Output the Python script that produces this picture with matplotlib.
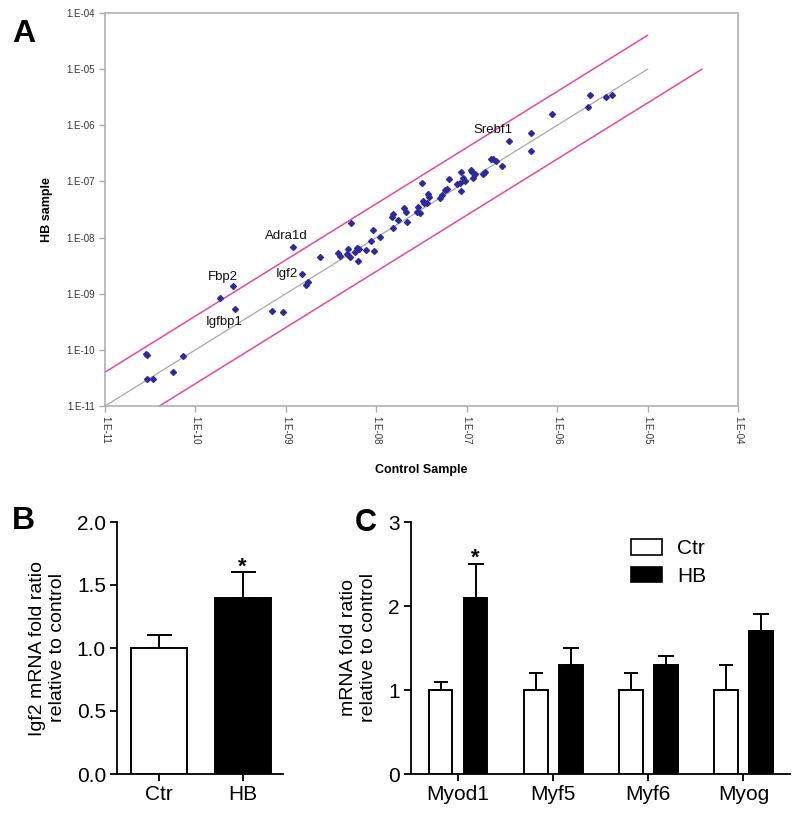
import matplotlib
matplotlib.use("Agg")
import matplotlib.pyplot as plt
from matplotlib.ticker import FixedLocator, FuncFormatter, NullLocator
from matplotlib.patches import Patch
import numpy as np

plt.rcParams['font.family'] = ['Liberation Sans', 'DejaVu Sans']

# ---------------- Panel A data ----------------
control_vals = [2.85e-11, 2.9e-11, 7.35e-11, 5.69e-11, 2.89e-11, 3.42e-11,
                1.87e-10, 2.62e-10, 2.76e-10, 6.97e-10, 9.38e-10,
                1.50e-9, 1.67e-9, 1.77e-9, 1.21e-9, 2.39e-9, 3.80e-9, 3.97e-9,
                4.71e-9, 4.90e-9, 5.12e-9, 5.82e-9, 6.07e-9, 6.44e-9, 6.32e-9,
                7.69e-9, 9.45e-9, 5.21e-9, 9.27e-9, 8.67e-9, 1.10e-8, 1.52e-8,
                1.48e-8, 1.54e-8, 1.75e-8, 2.02e-8, 2.13e-8, 2.17e-8, 2.80e-8,
                2.87e-8, 3.04e-8, 3.31e-8, 3.40e-8, 3.60e-8, 3.76e-8, 3.85e-8,
                3.18e-8, 5.07e-8, 5.28e-8, 5.75e-8, 6.01e-8, 7.74e-8, 8.43e-8,
                8.65e-8, 9.57e-8, 6.37e-8, 8.57e-8, 9.17e-8, 1.11e-7, 1.15e-7,
                1.18e-7, 1.24e-7, 1.52e-7, 1.59e-7, 1.86e-7, 1.94e-7, 2.11e-7,
                2.44e-7, 2.94e-7, 5.11e-7, 5.11e-7, 8.71e-7, 2.31e-6, 2.21e-6,
                3.44e-6, 4.01e-6]
hb_vals = [8.6e-11, 8.1e-11, 7.8e-11, 4.08e-11, 2.99e-11, 2.99e-11,
           8.4e-10, 1.37e-9, 5.27e-10, 4.92e-10, 4.67e-10,
           2.22e-9, 1.43e-9, 1.60e-9, 6.89e-9, 4.56e-9, 5.25e-9, 4.75e-9,
           5.03e-9, 6.18e-9, 4.56e-9, 5.61e-9, 6.44e-9, 6.18e-9, 3.83e-9,
           6.01e-9, 5.77e-9, 1.84e-8, 1.36e-8, 8.79e-9, 1.04e-8, 1.50e-8,
           2.36e-8, 2.60e-8, 2.06e-8, 3.40e-8, 2.89e-8, 1.92e-8, 2.82e-8,
           3.46e-8, 2.77e-8, 4.49e-8, 4.08e-8, 4.18e-8, 5.90e-8, 5.35e-8,
           9.27e-8, 5.01e-8, 5.73e-8, 7.05e-8, 7.48e-8, 9.0e-8, 9.27e-8,
           6.76e-8, 1.02e-7, 1.12e-7, 1.49e-7, 1.14e-7, 1.60e-7, 1.46e-7,
           1.15e-7, 1.36e-7, 1.36e-7, 1.49e-7, 2.54e-7, 2.48e-7, 2.31e-7,
           1.91e-7, 5.25e-7, 7.2e-7, 3.44e-7, 1.57e-6, 3.42e-6, 2.10e-6,
           3.16e-6, 3.42e-6]

label_genes = ['Srebf1', 'Adra1d', 'Fbp2', 'Igf2', 'Igfbp1']
label_ctrl = [2.94e-7, 1.21e-9, 2.62e-10, 1.50e-9, 2.76e-10]
label_hb = [5.25e-7, 6.89e-9, 1.37e-9, 2.22e-9, 5.27e-10]
label_offsets = [(-16, 11), (-7, 11), (-10, 9), (-15, 0), (-11, -13)]

ref_x = [1e-11, 1e-5]
fold = 4.0
a_ticks = [1e-11, 1e-10, 1e-9, 1e-8, 1e-7, 1e-6, 1e-5, 1e-4]

# ---------------- Panel B data ----------------
b_groups = ['Ctr', 'HB']
b_means = [1.0, 1.4]
b_errs = [0.1, 0.2]
b_colors = ['white', 'black']

# ---------------- Panel C data ----------------
c_genes = ['Myod1', 'Myf5', 'Myf6', 'Myog']
c_ctr = [1.0, 1.0, 1.0, 1.0]
c_ctr_err = [0.1, 0.2, 0.2, 0.3]
c_hb = [2.1, 1.3, 1.3, 1.7]
c_hb_err = [0.4, 0.2, 0.1, 0.2]

W, H = 800, 816
fig = plt.figure(figsize=(W / 100, H / 100), dpi=100)

def rect(l, t, r, b):
    return [l / W, 1 - b / H, (r - l) / W, (b - t) / H]

# ================= Panel A =================
axA = fig.add_axes(rect(105, 13, 738, 406))
axA.set_xscale('log')
axA.set_yscale('log')
axA.set_xlim(1e-11, 1e-4)
axA.set_ylim(1e-11, 1e-4)
gray = '#b0b0b0'
for s in axA.spines.values():
    s.set_color(gray)
    s.set_linewidth(1.2)
rx = np.array(ref_x)
axA.plot(rx, rx, color='#a8a8a8', lw=0.9, zorder=1)
axA.plot(rx, rx * fold, color='#e8479e', lw=1.1, zorder=1, clip_on=False)
axA.plot(rx * fold, rx, color='#e8479e', lw=1.1, zorder=1, clip_on=False)
axA.plot(control_vals, hb_vals, linestyle='none', marker='D', markersize=3.0,
         color='#2e2a9c', zorder=3)
for g, cx, hy, off in zip(label_genes, label_ctrl, label_hb, label_offsets):
    axA.annotate(g, xy=(cx, hy), xytext=off, textcoords='offset pixels',
                 ha='center', va='center', fontsize=9.5, color='#111111')
fmt = FuncFormatter(lambda v, p: '1.E-%02d' % round(-np.log10(v)))
for axis in (axA.xaxis, axA.yaxis):
    axis.set_major_locator(FixedLocator(a_ticks))
    axis.set_minor_locator(NullLocator())
    axis.set_major_formatter(fmt)
axA.tick_params(axis='both', which='major', length=4, width=1, color=gray,
                labelsize=7, labelcolor='#333333', direction='out', pad=3)
for lab in axA.get_xticklabels():
    lab.set_rotation(270)
axA.set_xlabel('Control Sample', fontsize=9, fontweight='bold', labelpad=14)
axA.set_ylabel('HB sample', fontsize=9, fontweight='bold', labelpad=10)
fig.text(12 / W, 1 - 34 / H, 'A', fontsize=23, fontweight='bold', va='center', ha='left')

# ================= Panel B =================
axB = fig.add_axes(rect(117, 522, 283, 774))
xb = np.arange(len(b_groups))
axB.bar(xb, b_means, width=0.667, color=b_colors, edgecolor='black', linewidth=1.4, zorder=2)
axB.errorbar(xb, b_means, yerr=[[0] * len(b_errs), b_errs], fmt='none', ecolor='black',
             elinewidth=1.4, capsize=9, capthick=1.4, zorder=1)
axB.text(xb[1], b_means[1] + b_errs[1], '*', ha='center', va='baseline', fontsize=16,
         fontweight='bold')
axB.set_xlim(-0.5, 1.48)
axB.set_ylim(0, 2.0)
axB.set_yticks([0.0, 0.5, 1.0, 1.5, 2.0])
axB.yaxis.set_major_formatter(FuncFormatter(lambda v, p: '%.1f' % v))
axB.set_xticks(xb)
axB.set_xticklabels(b_groups)
for s in ['top', 'right']:
    axB.spines[s].set_visible(False)
for s in ['left', 'bottom']:
    axB.spines[s].set_linewidth(1.3)
axB.tick_params(axis='both', length=5, width=1.3, labelsize=15, pad=3)
axB.set_ylabel('Igf2 mRNA fold ratio\nrelative to control', fontsize=14, labelpad=8)
fig.text(12 / W, 1 - 521 / H, 'B', fontsize=23, fontweight='bold', va='center', ha='left')

# ================= Panel C =================
axC = fig.add_axes(rect(411, 522, 790, 774))
xc = np.arange(len(c_genes))
off = 0.184
bw = 0.25
axC.bar(xc - off, c_ctr, width=bw, color='white', edgecolor='black', linewidth=1.4,
        zorder=2, label='Ctr')
axC.bar(xc + off, c_hb, width=bw, color='black', edgecolor='black', linewidth=1.4,
        zorder=2, label='HB')
axC.errorbar(xc - off, c_ctr, yerr=[[0] * len(c_ctr), c_ctr_err], fmt='none', ecolor='black',
             elinewidth=1.4, capsize=5, capthick=1.4, zorder=1)
axC.errorbar(xc + off, c_hb, yerr=[[0] * len(c_hb), c_hb_err], fmt='none', ecolor='black',
             elinewidth=1.4, capsize=5.5, capthick=1.4, zorder=1)
axC.text(xc[0] + off, c_hb[0] + c_hb_err[0], '*', ha='center', va='baseline', fontsize=16,
         fontweight='bold')
axC.set_xlim(-0.495, 3.49)
axC.set_ylim(0, 3)
axC.set_yticks([0, 1, 2, 3])
axC.set_xticks(xc)
axC.set_xticklabels(c_genes)
for s in ['top', 'right']:
    axC.spines[s].set_visible(False)
for s in ['left', 'bottom']:
    axC.spines[s].set_linewidth(1.3)
axC.tick_params(axis='both', length=5, width=1.3, labelsize=15, pad=3)
axC.set_ylabel('mRNA fold ratio\nrelative to control', fontsize=14, labelpad=8)
leg = axC.legend(handles=[Patch(facecolor='white', edgecolor='black', linewidth=1.2, label='Ctr'),
                          Patch(facecolor='black', edgecolor='black', linewidth=1.2, label='HB')],
                 loc='upper left', bbox_to_anchor=(631 / W, 1 - 539 / H),
                 bbox_transform=fig.transFigure, frameon=False, fontsize=15,
                 handlelength=1.5, handleheight=0.8, handletextpad=0.7,
                 labelspacing=0.4, borderpad=0, borderaxespad=0)
fig.text(355 / W, 1 - 523 / H, 'C', fontsize=22, fontweight='bold', va='center', ha='left')

fig.savefig('out.png', dpi=100)
